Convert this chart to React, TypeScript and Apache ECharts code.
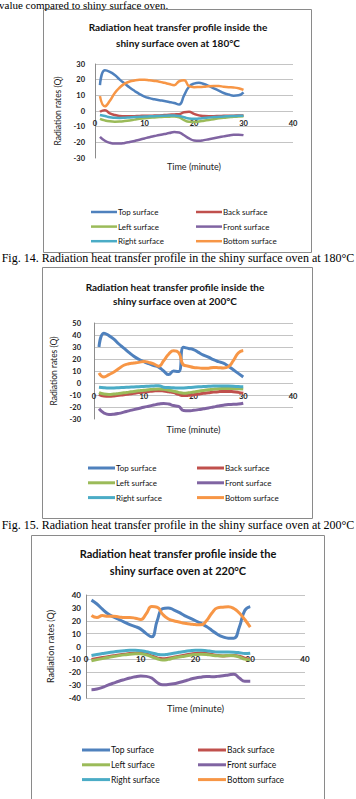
import React, { useEffect, useRef } from "react";
import * as echarts from "echarts";

// Time axis samples (minutes)
const MINUTES = [1, 2, 3, 4, 5, 6, 7, 8, 9, 10, 11, 12, 13, 14, 15, 16, 17, 18, 19, 20, 21, 22, 23, 24, 25, 26, 27, 28, 29, 30];

const SURFACES = ["Top surface", "Back surface", "Left surface", "Front surface", "Right surface", "Bottom surface"];
const COLORS = ["#4F81BD", "#C0504D", "#9BBB59", "#8064A2", "#4BACC6", "#F79646"];

// Oven at 180°C
const TOP_180 = [16.5, 26, 25, 23, 20, 17.5, 15, 12.8, 10.8, 9.2, 8.2, 7.5, 6.9, 6.4, 5.8, 5.1, 4.2, 10, 15.5, 17.5, 18, 17.2, 16, 14.5, 13, 11.5, 10.5, 9.8, 10, 11.9];
const BACK_180 = [-0.5, 0.5, -1.5, -2.6, -3.2, -3.4, -3.4, -3.3, -3.2, -3, -3, -2.9, -2.8, -2.6, -2.4, -2.2, -2, -0.8, -0.5, -1.8, -2.8, -3.2, -3.3, -3.3, -3.2, -3.1, -3, -3, -2.9, -2.9];
const LEFT_180 = [-5, -6, -6.6, -6.8, -6.7, -6.4, -6, -5.5, -5, -4.6, -4.3, -4.1, -3.9, -3.7, -3.6, -3.5, -4, -5.8, -6.9, -7, -6.7, -6.2, -5.7, -5.2, -4.7, -4.3, -4, -3.7, -3.5, -3.4];
const FRONT_180 = [-16.5, -19, -20.3, -20.8, -20.8, -20.4, -19.8, -19.1, -18.3, -17.5, -16.7, -16, -15.3, -14.7, -14.1, -13.4, -13.7, -15.5, -17.5, -18.8, -19, -18.6, -18, -17.4, -16.8, -16.2, -15.6, -15.2, -15.1, -15.4];
const RIGHT_180 = [-2.5, -3.2, -4, -4.3, -4.4, -4.3, -4.1, -3.9, -3.7, -3.5, -3.4, -3.3, -3.2, -3, -2.9, -2.9, -3.2, -4, -4.8, -5, -4.8, -4.5, -4.2, -3.9, -3.7, -3.5, -3.3, -3.2, -3.1, -3];
const BOTTOM_180 = [9.5, 3, 6.5, 11.5, 15, 17.5, 18.8, 19.5, 19.9, 20, 19.6, 19.2, 18.7, 18, 17.2, 16.5, 19, 19.6, 15.8, 15.2, 15.3, 15.5, 15.8, 15.9, 15.9, 15.5, 15.2, 15, 14.5, 13.5];

// Oven at 200°C
const TOP_200 = [30, 41.5, 39.5, 36.5, 32.5, 29, 25.5, 22.3, 19.8, 17.8, 16.1, 14.6, 13.2, 10, 7, 10, 9.5, 29.7, 28.8, 27.9, 25.5, 23.3, 21.5, 19.4, 17.8, 16.5, 14, 11, 8, 5];
const BACK_200 = [-9.5, -10.8, -11, -10.8, -10.3, -9.8, -9.2, -8.6, -8, -7.5, -7, -6.6, -6.4, -6.7, -7.3, -8, -9.5, -10.5, -10.3, -9.8, -9.2, -8.6, -8.1, -7.6, -7.2, -7, -7, -7.3, -7.8, -8.5];
const LEFT_200 = [-8, -9.2, -9.5, -9.2, -8.7, -8.2, -7.6, -7, -6.5, -6, -5.6, -5.2, -5, -5.3, -6, -6.8, -7.8, -8.5, -8.2, -7.5, -6.8, -6.2, -5.7, -5.2, -4.8, -4.6, -4.5, -4.6, -4.8, -5];
const FRONT_200 = [-21.5, -25, -26.3, -26, -25.3, -24.3, -23.2, -22.2, -21.2, -20.2, -19.3, -18.4, -17.5, -17, -17.5, -18.8, -19.5, -23, -23.2, -22.8, -22.2, -21.5, -20.8, -20, -19.2, -18.5, -18, -17.8, -17.5, -16.8];
const RIGHT_200 = [-3.5, -4, -4.2, -4.1, -3.9, -3.7, -3.5, -3.3, -3.1, -2.9, -2.7, -2.5, -2.3, -3.5, -3.8, -4, -4.2, -4.1, -3.8, -3.5, -3.2, -3, -2.8, -2.6, -2.5, -2.4, -2.5, -2.7, -3, -3.2];
const BOTTOM_200 = [8.3, 5, 7, 9.2, 12, 14.8, 16, 16.6, 17.2, 18, 17.2, 16, 14, 18.5, 24, 26.8, 25.5, 15, 14, 13, 12.6, 12.2, 12.3, 13, 12.8, 12.5, 13.5, 18.6, 25, 27];

// Oven at 220°C
const TOP_220 = [36, 33, 29, 25.5, 23, 21, 19, 17, 15.5, 13.5, 10, 7.5, 20, 29.5, 30, 28.5, 26.5, 24, 22, 20, 18, 15.5, 12.5, 9.5, 7.5, 6.5, 6.5, 15, 28, 31];
const BACK_220 = [-10, -9.3, -8.6, -7.9, -7.2, -6.5, -6, -5.5, -5.2, -5, -5.8, -7.3, -8.8, -9.6, -9.2, -8.4, -7.6, -6.8, -6, -5.4, -5, -5.4, -6.2, -7, -7.3, -7.2, -7, -7.5, -9, -10];
const LEFT_220 = [-11, -10.2, -9.4, -8.6, -7.8, -7.1, -6.5, -6, -5.7, -5.6, -6.5, -8, -9.5, -10.5, -10, -9, -8.2, -7.5, -6.8, -6.3, -6, -6.2, -6.8, -7.2, -7.3, -7, -7.2, -8.2, -9.8, -10.5];
const FRONT_220 = [-33.5, -33, -31.8, -30, -28.5, -27, -25.7, -24.5, -23.5, -23, -23.2, -24.5, -28, -29.8, -29.5, -29, -28, -26.8, -25.5, -24.5, -23.8, -23.3, -23.4, -23.2, -22.7, -22.1, -21.5, -24.5, -27, -27];
const RIGHT_220 = [-7, -6.2, -5.5, -4.8, -4.2, -3.7, -3.3, -3, -3, -3.2, -4, -5, -6, -6.5, -6, -5.2, -4.5, -3.8, -3.3, -3, -3, -3.3, -3.8, -4.2, -4.3, -4.3, -4.4, -4.8, -5.5, -5.2];
const BOTTOM_220 = [24, 22.5, 24, 23.5, 23.5, 23, 22.5, 22.5, 22, 21, 25.5, 31, 30.5, 25, 21.5, 20, 19, 18, 17.5, 17, 16.8, 20, 26, 30, 30.5, 30.8, 29.5, 26, 21, 15];

const TEMPS = ["180", "200", "220"];
const Y_RANGES = [[-30, 30], [-30, 50], [-40, 40]];
// gridlines left undrawn in each plot
const HIDDEN_GRIDLINES = [[-30], [-30], [30]];
const SERIES_SETS = [
  [TOP_180, BACK_180, LEFT_180, FRONT_180, RIGHT_180, BOTTOM_180],
  [TOP_200, BACK_200, LEFT_200, FRONT_200, RIGHT_200, BOTTOM_200],
  [TOP_220, BACK_220, LEFT_220, FRONT_220, RIGHT_220, BOTTOM_220],
];
const CAPTIONS = [
  "Fig. 14. Radiation heat transfer profile in the shiny surface oven at 180°C",
  "Fig. 15. Radiation heat transfer profile in the shiny surface oven at 200°C",
];

const SANS = 'Lato, "Open Sans", sans-serif';
const SERIF = '"Liberation Serif", "DejaVu Serif", serif';

// page layout of the three figure boxes
const LAYOUT = [
  { box: [43.5, 9.5, 268, 243], grid: [95, 64, 198, 94], titleX: 178, titleY: [27, 42.5], titleSize: 10, tick: 7.5, labelY: 123, xNameGap: 4, yNameGap: 32, yLabelMargin: 10, legendTop: 202, rowGap: 4.6, cols: [86, 191], iconW: 26, lineW: 2.5, legendSize: 8, captionY: 258 },
  { box: [42.5, 267.5, 270, 251], grid: [94, 323, 199, 96], titleX: 175, titleY: [287, 300.5], titleSize: 10, tick: 7.5, labelY: 396, xNameGap: 6, yNameGap: 32, yLabelMargin: 13, legendTop: 458, rowGap: 4.8, cols: [83, 192], iconW: 27, lineW: 3, legendSize: 8, captionY: 525 },
  { box: [31.5, 535.5, 293, 280], grid: [86, 595, 219, 103], titleX: 178, titleY: [553, 570], titleSize: 11, tick: 8, labelY: 659, xNameGap: 5, yNameGap: 31, yLabelMargin: 5, legendTop: 740, rowGap: 4.8, cols: [77, 193], iconW: 28, lineW: 3, legendSize: 8.5, captionY: 0 },
];

function buildOption() {
  const grid: any[] = [];
  const xAxis: any[] = [];
  const yAxis: any[] = [];
  const series: any[] = [];
  const legend: any[] = [];
  const graphic: any[] = [];

  // tail of the preceding paragraph at the top of the page
  graphic.push({
    type: "text", x: -1, y: 4.5,
    style: { text: "value compared to shiny surface oven.", font: `11px ${SERIF}`, fill: "#000", verticalAlign: "middle" },
  });

  TEMPS.forEach((temp, i) => {
    const L = LAYOUT[i];
    const [yMin, yMax] = Y_RANGES[i];
    const ticks: number[] = [];
    for (let v = yMin; v <= yMax; v += 10) ticks.push(v);
    const gridColors = ticks.map((v) => (HIDDEN_GRIDLINES[i].includes(v) ? "rgba(0,0,0,0)" : "#c4c4c4"));
    const gridBottom = L.grid[1] + L.grid[3];

    grid.push({ left: L.grid[0], top: L.grid[1], width: L.grid[2], height: L.grid[3] });

    xAxis.push({
      type: "value", gridIndex: i, min: 0, max: 40, interval: 10,
      name: "Time (minute)", nameLocation: "middle", nameGap: L.xNameGap,
      nameTextStyle: { fontFamily: SANS, fontSize: L.tick + 1.5, color: "#222" },
      axisLine: { show: false }, axisTick: { show: false }, splitLine: { show: false },
      axisLabel: { margin: L.labelY - gridBottom, verticalAlign: "middle", fontFamily: SANS, fontSize: L.tick, color: "#222", fontWeight: "bold" },
    });

    yAxis.push({
      type: "value", gridIndex: i, min: yMin, max: yMax, interval: 10,
      name: "Radiation rates (Q)", nameLocation: "middle", nameGap: L.yNameGap,
      nameTextStyle: { fontFamily: SANS, fontSize: L.tick + 1, color: "#222" },
      axisLine: { show: true, lineStyle: { color: "#8c8c8c", width: 1 } },
      axisTick: { show: false },
      splitLine: { show: true, lineStyle: { color: gridColors, width: 1 } },
      axisLabel: { margin: L.yLabelMargin, fontFamily: SANS, fontSize: L.tick, color: "#222", fontWeight: "bold" },
    });

    SERIES_SETS[i].forEach((vals, k) => {
      series.push({
        type: "line", name: SURFACES[k], xAxisIndex: i, yAxisIndex: i,
        data: MINUTES.map((m, j) => [m, vals[j]]),
        smooth: true, showSymbol: false, symbol: "none", silent: true,
        lineStyle: { width: L.lineW, color: COLORS[k] },
        itemStyle: { color: COLORS[k] },
      });
    });

    [0, 1].forEach((c) => {
      legend.push({
        orient: "vertical", left: L.cols[c], top: L.legendTop,
        itemWidth: L.iconW, itemHeight: L.lineW, itemGap: L.rowGap, icon: "rect",
        selectedMode: false,
        data: [SURFACES[c], SURFACES[c + 2], SURFACES[c + 4]],
        textStyle: { fontFamily: SANS, fontSize: L.legendSize, color: "#111", lineHeight: 10, padding: [0, 0, 0, -4] },
      });
    });

    graphic.push({
      type: "rect", z: -1, shape: { x: L.box[0], y: L.box[1], width: L.box[2], height: L.box[3] },
      style: { fill: "rgba(0,0,0,0)", stroke: "#8a8a8a", lineWidth: 1 },
    });
    graphic.push({
      type: "text", x: L.titleX, y: L.titleY[0],
      style: { text: "Radiation heat transfer profile inside the", font: `bold ${L.titleSize}px ${SANS}`, fill: "#111", align: "center", verticalAlign: "middle" },
    });
    graphic.push({
      type: "text", x: L.titleX, y: L.titleY[1],
      style: { text: `shiny surface oven at ${temp}°C`, font: `bold ${L.titleSize}px ${SANS}`, fill: "#111", align: "center", verticalAlign: "middle" },
    });
    if (CAPTIONS[i]) {
      graphic.push({
        type: "text", x: 178, y: L.captionY,
        style: { text: CAPTIONS[i], font: `12px ${SERIF}`, fill: "#000", align: "center", verticalAlign: "middle" },
      });
    }
  });

  return { animation: false, backgroundColor: "#fff", grid, xAxis, yAxis, series, legend, graphic };
}

export default function App() {
  const ref = useRef<HTMLDivElement>(null);
  useEffect(() => {
    const chart = echarts.init(ref.current!, null, { renderer: "svg" });
    chart.setOption(buildOption());
    return () => chart.dispose();
  }, []);
  return (
    <div
      ref={ref}
      style={{ position: "fixed", left: 0, top: 0, width: 356, height: 799, background: "#fff" }}
    />
  );
}
